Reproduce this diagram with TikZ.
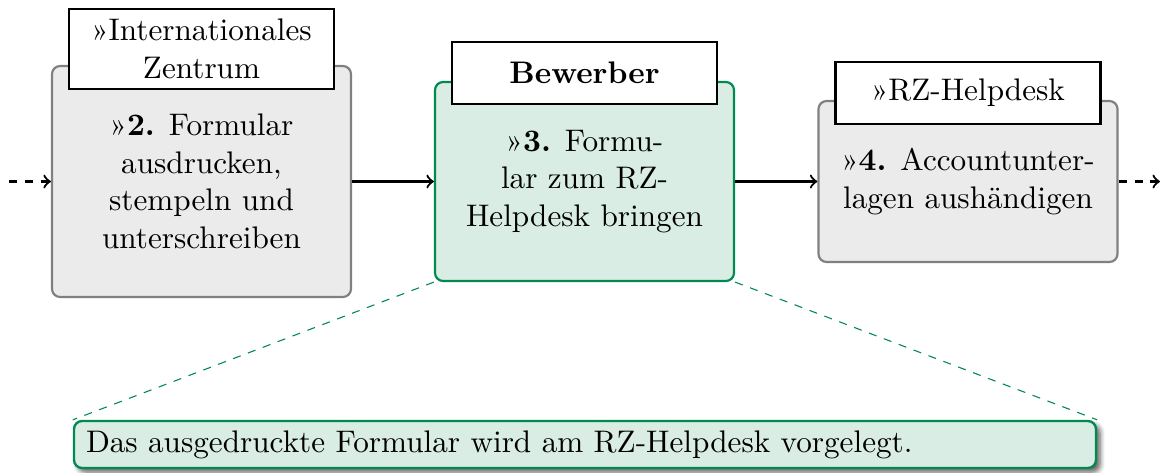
\documentclass[tikz,border=0pt]{standalone}
\usepackage{fontspec}
\usetikzlibrary{shadows,shadows.blur}
\newcommand\pxu{0.3205pt}
\definecolor{grayfill}{RGB}{235,235,235}
\definecolor{grayline}{RGB}{128,128,128}
\definecolor{greenfill}{RGB}{217,237,228}
\definecolor{greenline}{RGB}{0,138,82}
\begin{document}
\begin{tikzpicture}[x=0.3205pt,y=-0.3205pt,
  stepbox/.style={rounded corners=2.6pt, line width=0.7pt, align=center,
    minimum width=299*\pxu, inner sep=0pt},
  graybox/.style={stepbox, draw=grayline, fill=grayfill},
  greenbox/.style={stepbox, draw=greenline, fill=greenfill},
  titlebox/.style={draw=black, fill=white, line width=0.75pt, align=center,
    minimum width=265*\pxu, inner xsep=0pt, inner ysep=3.3pt, anchor=south},
  flow/.style={->, line width=0.7pt},
  dflow/.style={->, line width=0.7pt, dash pattern=on 2.7pt off 2.4pt},
  zoomline/.style={draw=greenline, line width=0.35pt, dash pattern=on 2.6pt off 2.5pt},
  notebox/.style={draw=greenline, fill=greenfill, line width=0.75pt, rounded corners=2.6pt,
    text width=998*\pxu, inner xsep=12*\pxu, inner ysep=0pt, minimum height=47*\pxu, align=left,
    blur shadow={shadow xshift=1.3pt, shadow yshift=-1.3pt, shadow blur radius=1.6pt,
      shadow blur steps=6, shadow opacity=65}}
]
\useasboundingbox (0,0) rectangle (1169,472);

\node[graybox, minimum height=231*\pxu] (b2) at (201.5,181.5)
  {»\textbf{2.} Formular\\ausdrucken,\\stempeln und\\unterschreiben};
\node[greenbox, minimum height=199*\pxu] (b3) at (584.5,181.5)
  {»\textbf{3.} Formu-\\lar zum RZ-\\Helpdesk bringen};
\node[graybox, minimum height=161*\pxu] (b4) at (968,181.5)
  {»\textbf{4.} Accountunter-\\lagen aushändigen};

\node[titlebox] (t2) at ([yshift=-25*\pxu]b2.north) {»Internationales\\Zentrum};
\node[titlebox, minimum height=62*\pxu] (t3) at ([yshift=-24*\pxu]b3.north) {\textbf{Bewerber}};
\node[titlebox, minimum height=62*\pxu] (t4) at ([yshift=-25*\pxu]b4.north) {»RZ-Helpdesk};

\coordinate (in) at (9,181.5);
\coordinate (out) at (1160,181.5);
\draw[dflow] (in) -- (b2.west);
\draw[flow] (b2.east) -- (b3.west);
\draw[flow] (b3.east) -- (b4.west);
\draw[dflow] (b4.east) -- (out);

\node[notebox] (note) at (585,444.5)
  {Das ausgedruckte Formular wird am RZ-Helpdesk vorgelegt.};

\draw[zoomline] (b3.south west) -- (note.north west);
\draw[zoomline] (b3.south east) -- (note.north east);
\end{tikzpicture}
\end{document}
